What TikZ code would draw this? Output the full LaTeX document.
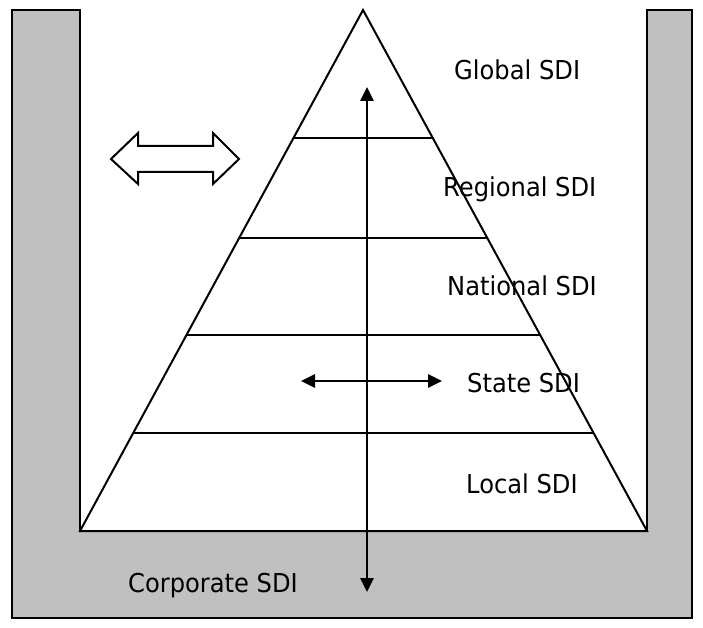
\documentclass[tikz,border=0pt]{standalone}
\usepackage{fontspec}
\setmainfont{DejaVu Sans}[FakeStretch=0.93]
\usetikzlibrary{arrows.meta}
\definecolor{wallgray}{HTML}{C0C0C0}
\begin{document}
\begin{tikzpicture}[x=1pt,y=-1pt,
  wall/.style={fill=wallgray,draw=black,line width=2pt},
  tier/.style={draw=black,line width=2pt},
  flow/.style={draw=black,line width=2.6pt,{Triangle[length=14pt,width=13pt]}-{Triangle[length=14pt,width=13pt]}},
  lbl/.style={inner sep=0pt,anchor=base west,font=\fontsize{26}{30}\selectfont}]
\useasboundingbox (0,0) rectangle (703,628);
% gray U-shaped wall
\draw[wall] (12,10) -- (80,10) -- (80,531) -- (647,531) -- (647,10) -- (692,10) -- (692,618) -- (12,618) -- cycle;
% pyramid
\coordinate (apex) at (363,10);
\coordinate (bl) at (80,531);
\coordinate (br) at (647,531);
\fill[white] (apex) -- (bl) -- (br) -- cycle;
\draw[tier] (apex) -- (bl) -- (br) -- cycle;
\coordinate (l1) at (293.4,138); \coordinate (r1) at (432.6,138);
\coordinate (l2) at (238.9,238); \coordinate (r2) at (487.1,238);
\coordinate (l3) at (186.2,335); \coordinate (r3) at (539.8,335);
\coordinate (l4) at (132.8,433); \coordinate (r4) at (593.2,433);
\draw[tier] (l1) -- (r1);
\draw[tier] (l2) -- (r2);
\draw[tier] (l3) -- (r3);
\draw[tier] (l4) -- (r4);
% arrows
\coordinate (vtop) at (367,87);
\coordinate (vbot) at (367,592);
\draw[flow] (vbot) -- (vtop);
\coordinate (hl) at (301,381);
\coordinate (hr) at (442,381);
\draw[flow] (hl) -- (hr);
% block double arrow
\draw[black,line width=2pt,fill=white,line join=miter]
  (111,159) -- (138,133) -- (138,146) -- (213,146) -- (213,133) -- (239,159)
  -- (213,184) -- (213,172) -- (138,172) -- (138,184) -- cycle;
% labels
\node[lbl] (global) at (454,80) {Global SDI};
\node[lbl] (regional) at (443,197) {Regional SDI};
\node[lbl] (national) at (447,295) {National SDI};
\node[lbl] (state) at (467,392) {State SDI};
\node[lbl] (local) at (466,493) {Local SDI};
\node[lbl] (corporate) at (128,592) {Corporate SDI};
\end{tikzpicture}
\end{document}
